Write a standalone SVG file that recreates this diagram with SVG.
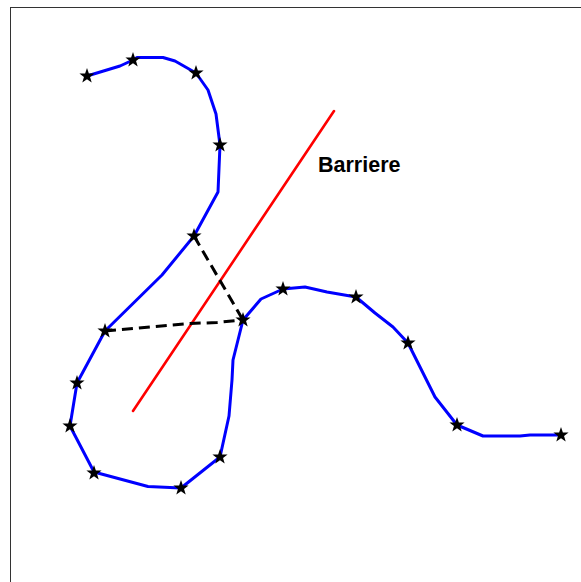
<svg xmlns="http://www.w3.org/2000/svg" xmlns:xlink="http://www.w3.org/1999/xlink" width="581" height="582" viewBox="0 0 581 582">
<style>
.frame{fill:none;stroke:#333;stroke-width:1}
.curve{fill:none;stroke:#0000ff;stroke-width:3;stroke-linejoin:round;stroke-linecap:butt}
.barrier{fill:none;stroke:#ff0000;stroke-width:2.6;stroke-linecap:round}
.link{fill:none;stroke:#000;stroke-width:3;stroke-dasharray:11 6}
.lbl{font-family:"Liberation Sans",Arial,sans-serif;font-weight:bold;font-size:21.5px;fill:#000}
</style>
<defs>
<path id="star" d="M0,-8 L1.88,-2.59 L7.61,-2.47 L3.04,0.99 L4.7,6.47 L0,3.2 L-4.7,6.47 L-3.04,0.99 L-7.61,-2.47 L-1.88,-2.59 Z" fill="#000"/>
</defs>
<rect width="581" height="582" fill="#fff"/>
<rect class="frame" x="10.5" y="7.5" width="600" height="600"/>
<g id="connectors">
<polyline class="curve" points="87,76 120,66 133,60 137,57.5 163,57.5 175,61 196,73 208,90 216,114 220,145 218,192 194,236 162,275 105,331 77,383 70,426 94,472 148,486.5 181,488 220,457 229,416 232,380 233,360 243,320 261,299 283,289 305,287 327,292 356,297 375,313 393,327 408,343 435,397 457,425 483,436 520,436 530,435 560,435"/>
<line class="barrier" x1="133" y1="411" x2="334" y2="111"/>
<polyline class="link" points="194,236 243,320"/>
<polyline class="link" points="105,331 190,323.5 217,322.5 243,320"/>
</g>
<g id="nodes">
<g id="p1"><use xlink:href="#star" x="87" y="76"/></g>
<g id="p2"><use xlink:href="#star" x="133" y="60"/></g>
<g id="p3"><use xlink:href="#star" x="196" y="73"/></g>
<g id="p4"><use xlink:href="#star" x="220" y="145"/></g>
<g id="p5"><use xlink:href="#star" x="194" y="236"/></g>
<g id="p6"><use xlink:href="#star" x="105" y="331"/></g>
<g id="p7"><use xlink:href="#star" x="77" y="383"/></g>
<g id="p8"><use xlink:href="#star" x="70" y="426"/></g>
<g id="p9"><use xlink:href="#star" x="94" y="473"/></g>
<g id="p10"><use xlink:href="#star" x="181" y="488"/></g>
<g id="p11"><use xlink:href="#star" x="220" y="457"/></g>
<g id="p12"><use xlink:href="#star" x="243" y="320"/></g>
<g id="p13"><use xlink:href="#star" x="283" y="289"/></g>
<g id="p14"><use xlink:href="#star" x="356" y="297"/></g>
<g id="p15"><use xlink:href="#star" x="408" y="343"/></g>
<g id="p16"><use xlink:href="#star" x="457" y="425"/></g>
<g id="p17"><use xlink:href="#star" x="561" y="435"/></g>
</g>
<g id="label"><text class="lbl" x="318" y="171.5">Barriere</text></g>
</svg>
